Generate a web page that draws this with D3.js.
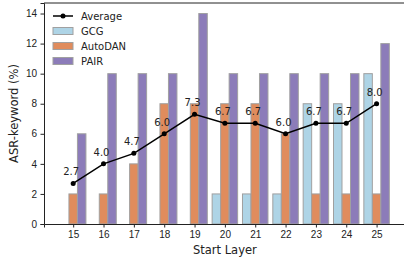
<!DOCTYPE html>
<html lang="en">
<head>
    <meta charset="UTF-8" />
    <title>ASR-keyword by Start Layer</title>
    <script src="https://d3js.org/d3.v7.min.js"></script>
    <style>
        body {
            margin: 0;
            padding: 0;
            background: #ffffff;
            font-family: "DejaVu Sans", sans-serif;
        }

        .tick text {
            font-size: 10px;
            fill: #222;
        }

        .axis-title {
            font-size: 11.5px;
            fill: #222;
        }

        .legend text {
            font-size: 10px;
            fill: #222;
        }

        .pt-label {
            font-size: 10px;
            fill: #222;
        }
    </style>
</head>
<body>
    <svg id="chart" width="404" height="259"></svg>

    <script>
        // Data
        const layers = [15, 16, 17, 18, 19, 20, 21, 22, 23, 24, 25];
        const gcg = [0, 0, 0, 0, 0, 2, 2, 2, 8, 8, 10];
        const autodan = [2, 2, 4, 8, 8, 8, 8, 6, 2, 2, 2];
        const pair = [6, 10, 10, 10, 14, 10, 10, 10, 10, 10, 12];
        const average = [2.7, 4.0, 4.7, 6.0, 7.3, 6.7, 6.7, 6.0, 6.7, 6.7, 8.0];
        const yTicks = [0, 2, 4, 6, 8, 10, 12, 14];

        const series = [
            { name: "GCG", values: gcg, color: "#aed4e6", offset: -1 },
            { name: "AutoDAN", values: autodan, color: "#e08c5d", offset: 0 },
            { name: "PAIR", values: pair, color: "#8c7cb9", offset: 1 }
        ];

        const svg = d3.select("#chart");
        const margin = { top: 3, left: 44, bottom: 35 };
        const height = 259;
        const barW = 0.28;

        // matplotlib-style x limits: data extent plus 5% padding
        const lo = d3.min(layers) - 1.5 * barW;
        const hi = d3.max(layers) + 1.5 * barW;
        const pad = (hi - lo) * 0.05;
        const pxPerUnit = 30.34;
        const x = d3.scaleLinear()
            .domain([lo - pad, hi + pad])
            .range([margin.left, margin.left + (hi - lo + 2 * pad) * pxPerUnit]);

        const y = d3.scaleLinear()
            .domain([0, 14.7])
            .range([height - margin.bottom, margin.top]);

        const plotRight = x.range()[1];

        // Bars
        series.forEach(s => {
            svg.append("g")
                .selectAll("rect")
                .data(layers.map((l, i) => ({ l, v: s.values[i] })))
                .enter().append("rect")
                .attr("x", d => x(d.l + s.offset * barW - barW / 2))
                .attr("width", x(barW) - x(0))
                .attr("y", d => y(d.v))
                .attr("height", d => y(0) - y(d.v))
                .attr("fill", s.color)
                .attr("stroke", "#a0a0a0")
                .attr("stroke-width", 1);
        });

        // Average line
        const pts = layers.map((l, i) => ({ l, v: average[i] }));
        svg.append("path")
            .datum(pts)
            .attr("fill", "none")
            .attr("stroke", "#000")
            .attr("stroke-width", 1.5)
            .attr("d", d3.line().x(d => x(d.l)).y(d => y(d.v)));

        svg.append("g")
            .selectAll("circle")
            .data(pts)
            .enter().append("circle")
            .attr("cx", d => x(d.l))
            .attr("cy", d => y(d.v))
            .attr("r", 2.5)
            .attr("fill", "#000");

        svg.append("g")
            .selectAll("text")
            .data(pts)
            .enter().append("text")
            .attr("class", "pt-label")
            .attr("text-anchor", "middle")
            .attr("x", d => x(d.l) - 2)
            .attr("y", d => y(d.v) - 8)
            .text(d => d.v.toFixed(1));

        // Axes
        const xAxis = svg.append("g")
            .attr("transform", `translate(0,${y(0)})`)
            .call(d3.axisBottom(x).tickValues(layers).tickFormat(d3.format("d")).tickSize(3.5).tickPadding(3.5));
        const yAxis = svg.append("g")
            .attr("transform", `translate(${margin.left},0)`)
            .call(d3.axisLeft(y).tickValues(yTicks).tickSize(3.5).tickPadding(3.5));

        [xAxis, yAxis].forEach(a => {
            a.select(".domain").attr("stroke", "#222").attr("stroke-width", 1);
            a.selectAll(".tick line").attr("stroke", "#222");
        });

        // Top spine (right spine falls outside the picture)
        svg.append("line")
            .attr("x1", margin.left).attr("x2", plotRight)
            .attr("y1", margin.top).attr("y2", margin.top)
            .attr("stroke", "#222").attr("stroke-width", 1);

        // Axis titles
        svg.append("text")
            .attr("class", "axis-title")
            .attr("text-anchor", "middle")
            .attr("x", (margin.left + plotRight) / 2)
            .attr("y", 254)
            .text("Start Layer");

        svg.append("text")
            .attr("class", "axis-title")
            .attr("text-anchor", "middle")
            .attr("transform", `translate(18,${(y(0) + margin.top) / 2}) rotate(-90)`)
            .text("ASR-keyword (%)");

        // Legend
        const legend = svg.append("g").attr("class", "legend");
        const lx = 53, ly = 16, step = 15;
        legend.append("line")
            .attr("x1", lx).attr("x2", lx + 20)
            .attr("y1", ly).attr("y2", ly)
            .attr("stroke", "#000").attr("stroke-width", 1.5);
        legend.append("circle")
            .attr("cx", lx + 10).attr("cy", ly).attr("r", 2.5).attr("fill", "#000");
        legend.append("text")
            .attr("x", lx + 28).attr("y", ly + 3.5).text("Average");

        series.forEach((s, i) => {
            const yy = ly + step * (i + 1);
            legend.append("rect")
                .attr("x", lx).attr("y", yy - 3.5)
                .attr("width", 20).attr("height", 7)
                .attr("fill", s.color)
                .attr("stroke", "#a0a0a0");
            legend.append("text")
                .attr("x", lx + 28).attr("y", yy + 3.5).text(s.name);
        });
    </script>
</body>
</html>
